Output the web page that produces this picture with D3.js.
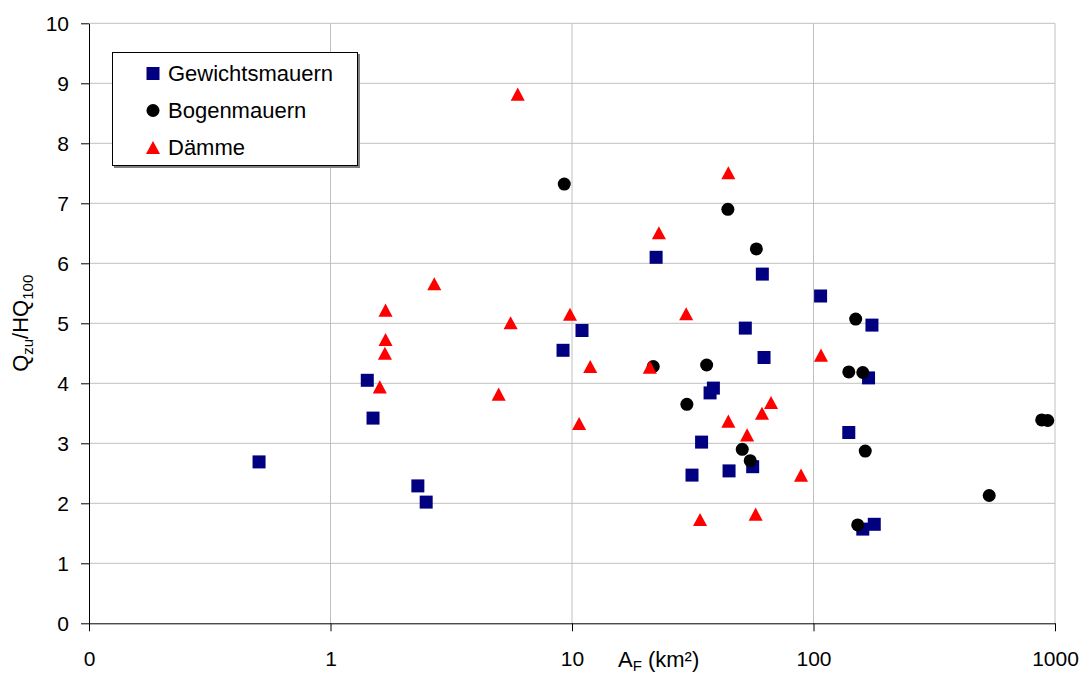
<!DOCTYPE html>
<html>
<head>
<meta charset="utf-8">
<script src="https://cdn.jsdelivr.net/npm/d3@7"></script>
<style>
  body { margin: 0; background: #fff; }
  text { font-family: "Liberation Sans", Arial, sans-serif; }
</style>
</head>
<body>
<svg width="1082" height="675"></svg>
<script>
// Gewichtsmauern (squares)
const gewX = [0.506, 1.42, 1.50, 2.30, 2.49, 9.18, 11.0, 22.3, 61.4, 52.2, 62.4, 107, 38.5, 37.3, 34.4, 31.4, 44.7, 56.0, 174.6, 169, 140, 178.5, 160];
const gewY = [2.69, 4.05, 3.42, 2.29, 2.02, 4.55, 4.88, 6.10, 5.82, 4.92, 4.43, 5.455, 3.92, 3.84, 3.02, 2.47, 2.54, 2.61, 4.97, 4.09, 3.18, 1.65, 1.57];

// Bogenmauern (circles)
const bogX = [9.29, 44.2, 58.0, 21.7, 36.1, 29.9, 50.7, 54.7, 149.5, 140, 160, 163.8, 152.4, 881, 933, 534];
const bogY = [7.32, 6.90, 6.24, 4.28, 4.305, 3.65, 2.90, 2.71, 5.07, 4.19, 4.18, 2.87, 1.64, 3.39, 3.38, 2.13];

// Dämme (triangles)
const dammX = [2.69, 1.69, 1.69, 1.68, 1.60, 4.97, 5.96, 5.57, 44.4, 22.9, 9.81, 29.7, 11.9, 21.0, 107.4, 10.7, 66.7, 61.2, 44.4, 53.1, 88.8, 33.9, 57.6];
const dammY = [5.66, 5.22, 4.73, 4.50, 3.94, 3.82, 8.82, 5.01, 7.51, 6.51, 5.15, 5.16, 4.28, 4.27, 4.47, 3.33, 3.68, 3.50, 3.37, 3.14, 2.47, 1.73, 1.82];

const xTicks = [0.1, 1, 10, 100, 1000];
const yTicks = [0, 1, 2, 3, 4, 5, 6, 7, 8, 9, 10];
const seriesNames = ["Gewichtsmauern", "Bogenmauern", "Dämme"];

const padL = 89, padR = 1055, padT = 23.3, padB = 623.3;
const svg = d3.select('svg');

const x = d3.scaleLog().domain([0.1, 1000]).range([padL, padR]);
const y = d3.scaleLinear().domain([0, 10]).range([padB, padT]);

// triangle centered on its bounding box
const triangle = {
  draw(ctx, size) {
    const w = Math.sqrt(size * 2 / 0.93);
    const h = w * 0.93;
    ctx.moveTo(0, -h / 2);
    ctx.lineTo(w / 2, h / 2);
    ctx.lineTo(-w / 2, h / 2);
    ctx.closePath();
  }
};

const styles = [
  { type: d3.symbolSquare, size: 169, fill: "#000080" },
  { type: d3.symbolCircle, size: 133, fill: "#000000" },
  { type: triangle, size: 92, fill: "#ff0000" }
];

// gridlines
svg.append('g').selectAll('line')
  .data(yTicks.slice(1))
  .enter().append('line')
  .attr('x1', padL).attr('x2', padR)
  .attr('y1', d => y(d)).attr('y2', d => y(d))
  .attr('stroke', '#c0c0c0').attr('stroke-width', 1);

svg.append('g').selectAll('line')
  .data(xTicks.slice(1))
  .enter().append('line')
  .attr('x1', d => x(d)).attr('x2', d => x(d))
  .attr('y1', padT).attr('y2', padB)
  .attr('stroke', '#c0c0c0').attr('stroke-width', 1);

const yAxis = d3.axisLeft(y).tickValues(yTicks).tickSize(8).tickSizeOuter(0).tickPadding(12);
const xAxis = d3.axisBottom(x).tickValues(xTicks).tickSize(8).tickSizeOuter(0).tickPadding(20)
  .tickFormat(d => d < 1 ? "0" : String(d));

const gy = svg.append('g')
  .attr('transform', 'translate(' + padL + ',0)')
  .call(yAxis);
const gx = svg.append('g')
  .attr('transform', 'translate(0,' + padB + ')')
  .call(xAxis);

[gx, gy].forEach(g => {
  g.selectAll('path, line').attr('stroke', '#000');
  g.selectAll('text')
    .style('font-family', '"Liberation Sans", Arial, sans-serif')
    .style('font-size', '21px')
    .attr('fill', '#000');
});

// points
const series = [[gewX, gewY], [bogX, bogY], [dammX, dammY]];
series.forEach((s, i) => {
  const pts = s[0].map((v, j) => [v, s[1][j]]);
  svg.append('g').selectAll('path')
    .data(pts)
    .enter().append('path')
    .attr('d', d3.symbol().type(styles[i].type).size(styles[i].size))
    .attr('transform', d => 'translate(' + x(d[0]) + ',' + y(d[1]) + ')')
    .attr('fill', styles[i].fill);
});

// axis titles
const xt = svg.append('text')
  .attr('x', 618).attr('y', 667)
  .style('font-size', '22px');
xt.append('tspan').text('A');
xt.append('tspan').attr('dy', 4).style('font-size', '15px').text('F');
xt.append('tspan').attr('dy', -4).text(' (km²)');

const yt = svg.append('text')
  .attr('transform', 'translate(28,' + ((padT + padB) / 2) + ') rotate(-90)')
  .attr('text-anchor', 'middle')
  .style('font-size', '22px');
yt.append('tspan').text('Q');
yt.append('tspan').attr('dy', 5).style('font-size', '15px').text('zu');
yt.append('tspan').attr('dy', -5).text('/HQ');
yt.append('tspan').attr('dy', 5).style('font-size', '15px').text('100');

// legend
const legend = svg.append('g');
legend.append('rect')
  .attr('x', 114).attr('y', 54).attr('width', 246).attr('height', 114)
  .attr('fill', '#808080');
legend.append('rect')
  .attr('x', 112.5).attr('y', 52.5).attr('width', 245).attr('height', 113)
  .attr('fill', '#fff').attr('stroke', '#000').attr('stroke-width', 1);

seriesNames.forEach((name, i) => {
  const cy = 73.5 + i * 37;
  legend.append('path')
    .attr('d', d3.symbol().type(styles[i].type).size(styles[i].size))
    .attr('transform', 'translate(153,' + cy + ')')
    .attr('fill', styles[i].fill);
  legend.append('text')
    .attr('x', 168).attr('y', cy + 7.5)
    .style('font-size', '22px')
    .text(name);
});
</script>
</body>
</html>
